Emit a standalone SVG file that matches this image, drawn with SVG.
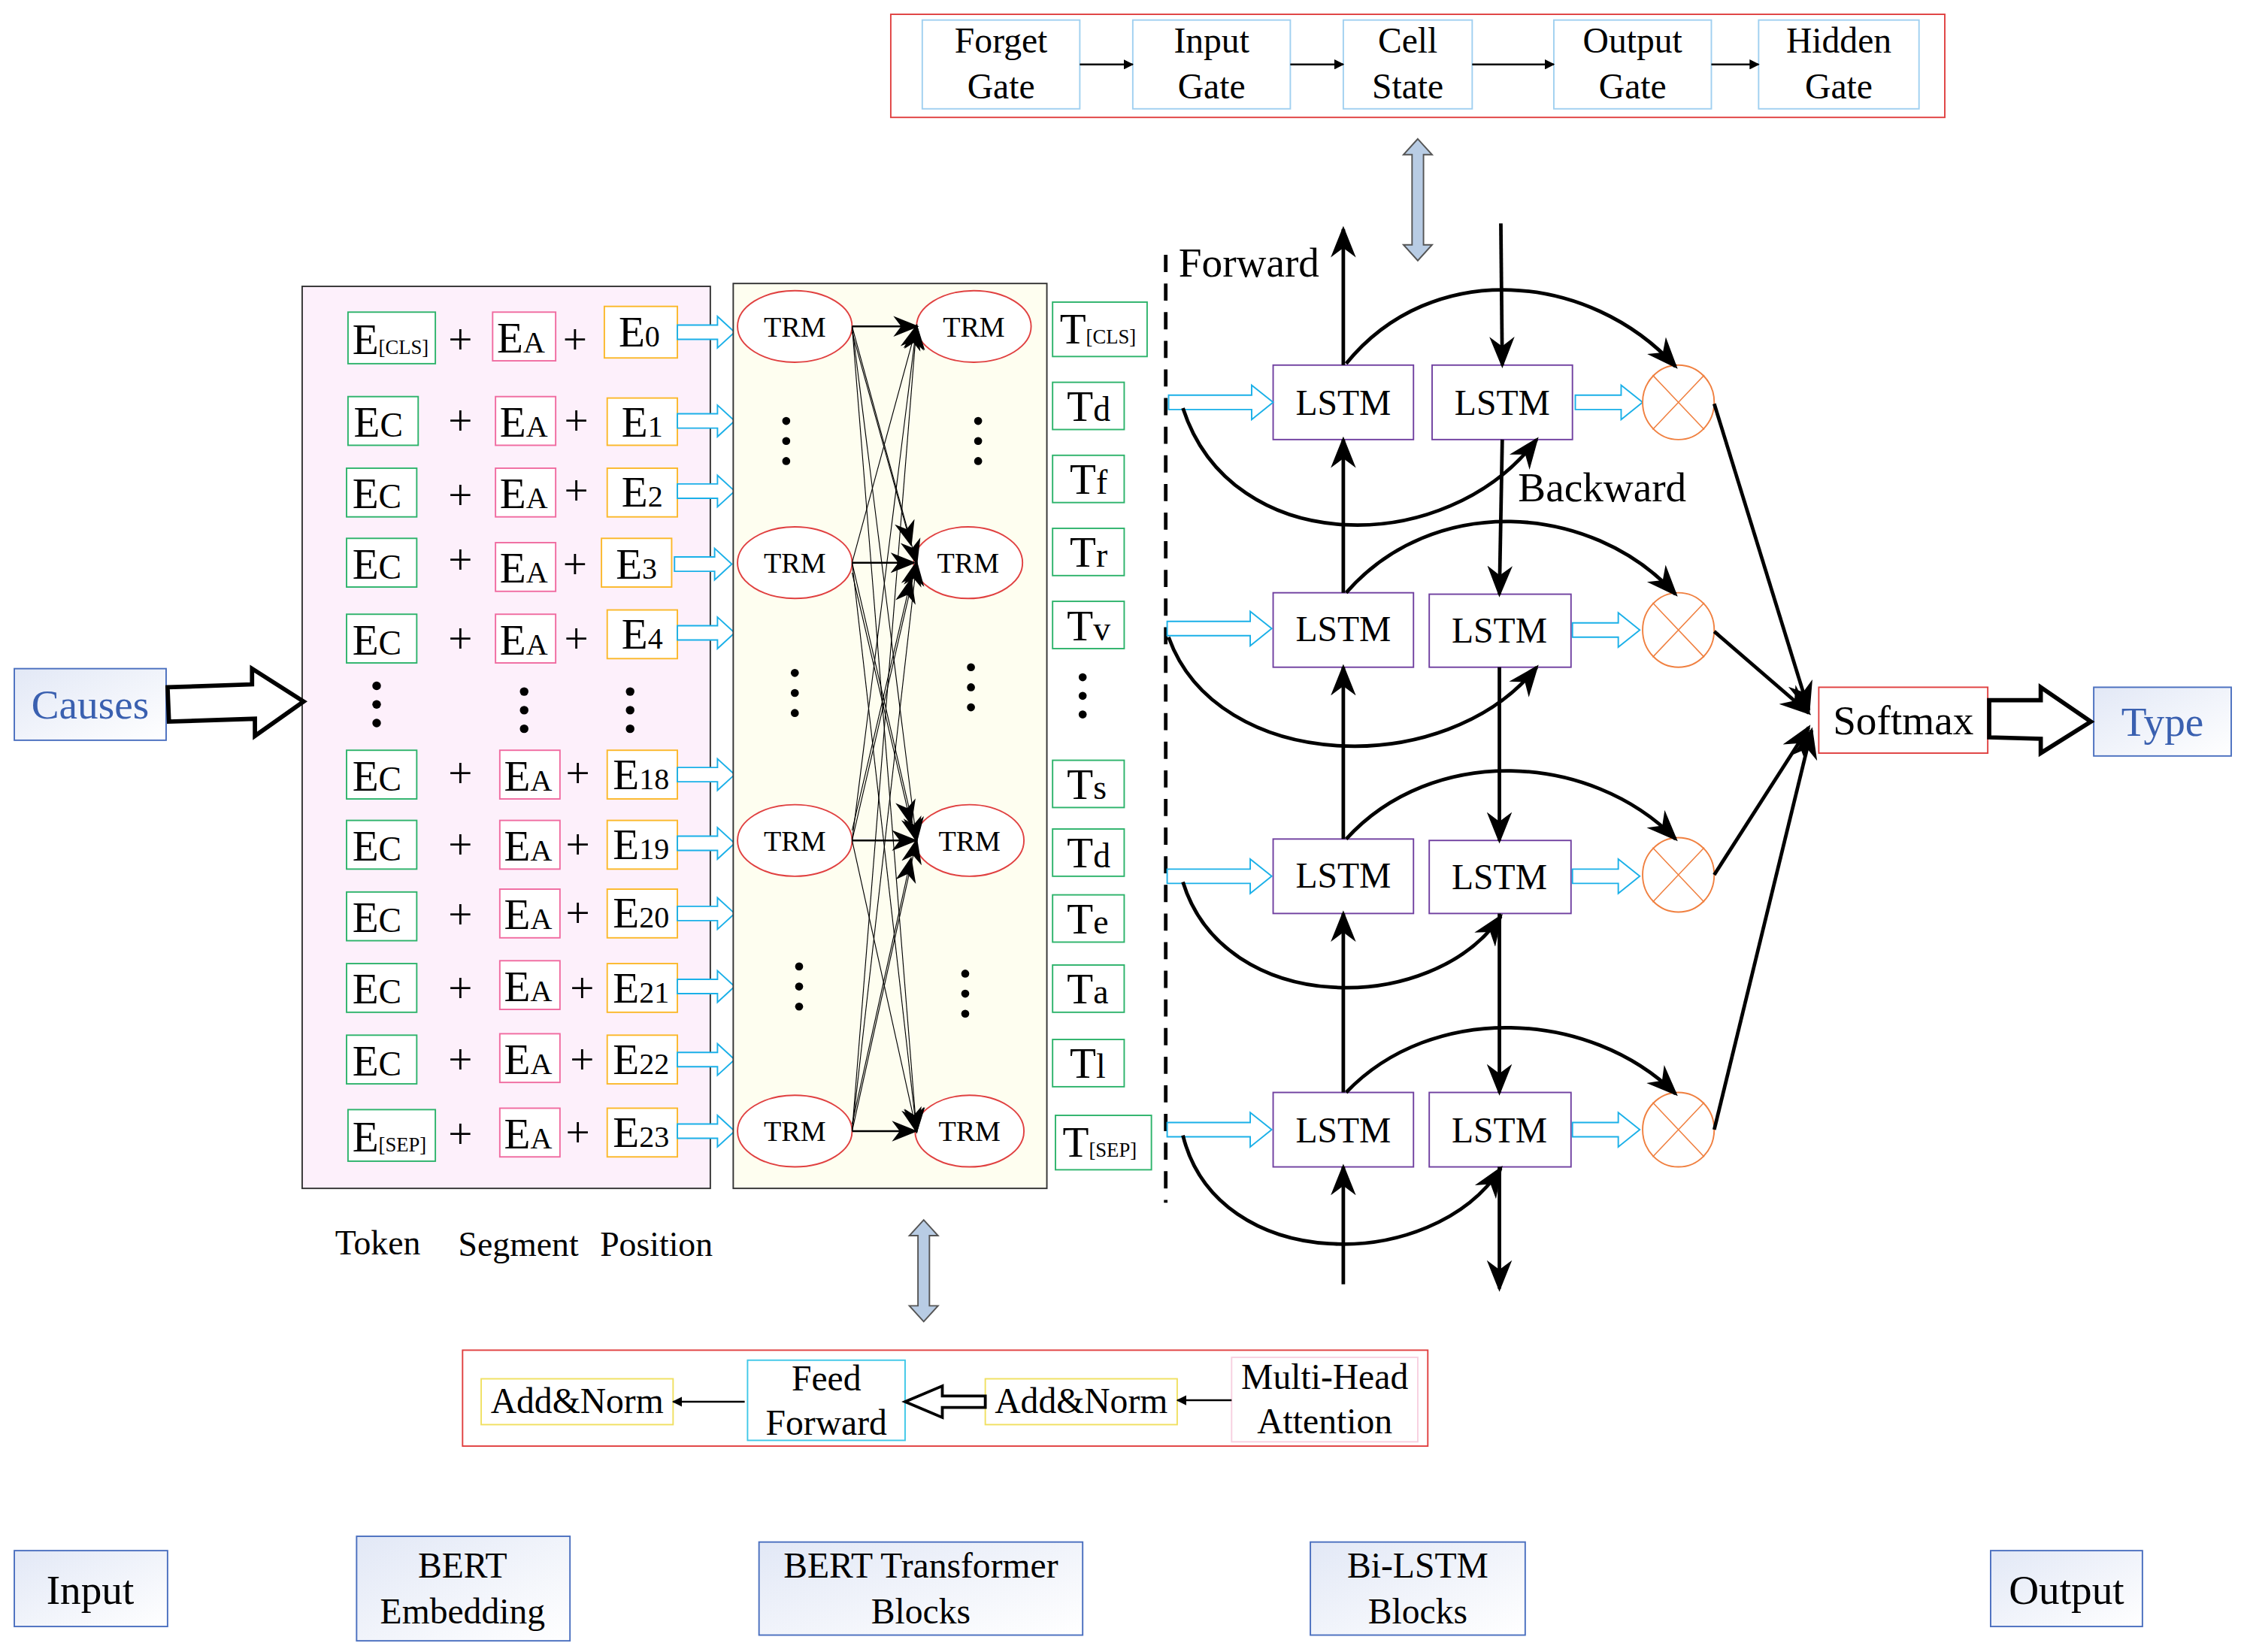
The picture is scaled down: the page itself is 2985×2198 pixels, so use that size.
<svg xmlns="http://www.w3.org/2000/svg" width="2985" height="2198" viewBox="0 0 2985 2198">
<defs>
<style>
text{font-family:"Liberation Serif","Times New Roman",serif;fill:#000}
.b{fill:#fff;stroke-width:1}
.g{stroke:#2db36b}.p{stroke:#f06ba0}.o{stroke:#fbb829}.c{stroke:#1ab0e8}
.pl{font-size:30px}
.e{font-size:30px}
.ln{stroke:#000;stroke-width:2.5;fill:none}
.lg{stroke:#4a6fbf;stroke-width:1;fill:url(#gr)}
</style>
<linearGradient id="gr" x1="0" y1="0" x2="1" y2="1"><stop offset="0" stop-color="#e2e8f6"/><stop offset="1" stop-color="#ffffff"/></linearGradient>
<marker id="ah" viewBox="0 0 10 10" refX="9" refY="5" markerWidth="7" markerHeight="7" orient="auto" markerUnits="userSpaceOnUse"><path d="M0,0 L10,5 L0,10 Z"/></marker>
<marker id="ab" viewBox="0 0 10 10" refX="9" refY="5" markerWidth="22" markerHeight="22" orient="auto" markerUnits="userSpaceOnUse"><path d="M0,1 L10,5 L0,9 L3,5 Z"/></marker>
<marker id="at" viewBox="0 0 10 10" refX="9" refY="5" markerWidth="18" markerHeight="18" orient="auto" markerUnits="userSpaceOnUse"><path d="M0,1 L10,5 L0,9 L3,5 Z"/></marker>
<path id="sa" d="M0,-5 H28 V-11 L40,0 L28,11 V5 H0 Z" fill="#fff" stroke="#1ab0e8" stroke-width="1"/>
<path id="la" d="M0,-5 H58 V-12 L73,0 L58,12 V5 H0 Z" fill="#fff" stroke="#1ab0e8" stroke-width="1"/>
<path id="ra" d="M0,-5 H32 V-12 L47,0 L32,12 V5 H0 Z" fill="#fff" stroke="#1ab0e8" stroke-width="1"/>
<g id="mul"><ellipse cx="0" cy="0" rx="25" ry="26" fill="#fff" stroke="#f08040"/><path d="M-18,-19 L18,19 M18,-19 L-18,19" stroke="#f08040" stroke-width="0.8"/></g>
</defs>
<rect width="2985" height="2198" fill="#fff"/>
<g transform="scale(1.905)">
<g id="gates">
<rect x="622" y="10" width="736" height="72" fill="#fff" stroke="#e04040"/>
<rect x="644" y="14" width="110" height="62" fill="#fff" stroke="#a0d0f0"/>
<rect x="791" y="14" width="110" height="62" fill="#fff" stroke="#a0d0f0"/>
<rect x="938" y="14" width="90" height="62" fill="#fff" stroke="#a0d0f0"/>
<rect x="1085" y="14" width="110" height="62" fill="#fff" stroke="#a0d0f0"/>
<rect x="1228" y="14" width="112" height="62" fill="#fff" stroke="#a0d0f0"/>
<g font-size="25" text-anchor="middle">
<text x="699" y="37">Forget</text><text x="699" y="69">Gate</text>
<text x="846" y="37">Input</text><text x="846" y="69">Gate</text>
<text x="983" y="37">Cell</text><text x="983" y="69">State</text>
<text x="1140" y="37">Output</text><text x="1140" y="69">Gate</text>
<text x="1284" y="37">Hidden</text><text x="1284" y="69">Gate</text>
</g>
</g>
<g id="embedding">
<rect x="211" y="200" width="285" height="630" fill="#fdf0fb" stroke="#333"/>
<g>
<rect class="b g" x="243" y="218" width="61" height="36"/><text x="246" y="247" class="e">E<tspan font-size="14">[CLS]</tspan></text>
<rect class="b p" x="344" y="218" width="44" height="34"/><text x="347" y="246" class="e">E<tspan font-size="21">A</tspan></text>
<rect class="b o" x="422" y="214" width="51" height="36"/><text x="432" y="242" class="e">E<tspan font-size="21">0</tspan></text>
<text x="313" y="247" class="pl">+</text><text x="393" y="247" class="pl">+</text>
</g>
<g id="rows">
<rect class="b g" x="243" y="277" width="49" height="34"/><text x="247" y="305" class="e">E<tspan font-size="24">C</tspan></text>
<rect class="b p" x="346" y="277" width="42" height="34"/><text x="349" y="305" class="e">E<tspan font-size="21">A</tspan></text>
<rect class="b o" x="424" y="278" width="49" height="33"/><text x="434" y="305" class="e">E<tspan font-size="21">1</tspan></text>
<text x="313" y="304" class="pl">+</text><text x="394" y="304" class="pl">+</text>

<rect class="b g" x="242" y="327" width="49" height="34"/><text x="246" y="355" class="e">E<tspan font-size="24">C</tspan></text>
<rect class="b p" x="346" y="327" width="42" height="34"/><text x="349" y="355" class="e">E<tspan font-size="21">A</tspan></text>
<rect class="b o" x="424" y="327" width="49" height="34"/><text x="434" y="354" class="e">E<tspan font-size="21">2</tspan></text>
<text x="313" y="356" class="pl">+</text><text x="394" y="353" class="pl">+</text>

<rect class="b g" x="242" y="376" width="49" height="34"/><text x="246" y="404" class="e">E<tspan font-size="24">C</tspan></text>
<rect class="b p" x="346" y="379" width="42" height="34"/><text x="349" y="407" class="e">E<tspan font-size="21">A</tspan></text>
<rect class="b o" x="420" y="376" width="49" height="34"/><text x="430" y="404" class="e">E<tspan font-size="21">3</tspan></text>
<text x="313" y="401" class="pl">+</text><text x="393" y="404" class="pl">+</text>

<rect class="b g" x="242" y="429" width="49" height="34"/><text x="246" y="457" class="e">E<tspan font-size="24">C</tspan></text>
<rect class="b p" x="346" y="429" width="42" height="34"/><text x="349" y="457" class="e">E<tspan font-size="21">A</tspan></text>
<rect class="b o" x="424" y="426" width="49" height="34"/><text x="434" y="453" class="e">E<tspan font-size="21">4</tspan></text>
<text x="313" y="456" class="pl">+</text><text x="394" y="456" class="pl">+</text>

<g fill="#000"><circle cx="263" cy="479" r="3"/><circle cx="263" cy="492" r="3"/><circle cx="263" cy="505" r="3"/>
<circle cx="366" cy="483" r="3"/><circle cx="366" cy="496" r="3"/><circle cx="366" cy="509" r="3"/>
<circle cx="440" cy="483" r="3"/><circle cx="440" cy="496" r="3"/><circle cx="440" cy="509" r="3"/></g>

<rect class="b g" x="242" y="524" width="49" height="34"/><text x="246" y="552" class="e">E<tspan font-size="24">C</tspan></text>
<rect class="b p" x="349" y="524" width="42" height="34"/><text x="352" y="552" class="e">E<tspan font-size="21">A</tspan></text>
<rect class="b o" x="424" y="524" width="49" height="34"/><text x="428" y="551" class="e">E<tspan font-size="21">18</tspan></text>
<text x="313" y="550" class="pl">+</text><text x="395" y="550" class="pl">+</text>

<rect class="b g" x="242" y="573" width="49" height="34"/><text x="246" y="601" class="e">E<tspan font-size="24">C</tspan></text>
<rect class="b p" x="349" y="573" width="42" height="34"/><text x="352" y="601" class="e">E<tspan font-size="21">A</tspan></text>
<rect class="b o" x="424" y="573" width="49" height="34"/><text x="428" y="600" class="e">E<tspan font-size="21">19</tspan></text>
<text x="313" y="600" class="pl">+</text><text x="395" y="600" class="pl">+</text>

<rect class="b g" x="242" y="623" width="49" height="34"/><text x="246" y="651" class="e">E<tspan font-size="24">C</tspan></text>
<rect class="b p" x="349" y="621" width="42" height="34"/><text x="352" y="649" class="e">E<tspan font-size="21">A</tspan></text>
<rect class="b o" x="424" y="621" width="49" height="34"/><text x="428" y="648" class="e">E<tspan font-size="21">20</tspan></text>
<text x="313" y="649" class="pl">+</text><text x="395" y="648" class="pl">+</text>

<rect class="b g" x="242" y="673" width="49" height="34"/><text x="246" y="701" class="e">E<tspan font-size="24">C</tspan></text>
<rect class="b p" x="349" y="671" width="42" height="34"/><text x="352" y="699" class="e">E<tspan font-size="21">A</tspan></text>
<rect class="b o" x="424" y="673" width="49" height="34"/><text x="428" y="700" class="e">E<tspan font-size="21">21</tspan></text>
<text x="313" y="700" class="pl">+</text><text x="398" y="700" class="pl">+</text>

<rect class="b g" x="242" y="723" width="49" height="34"/><text x="246" y="751" class="e">E<tspan font-size="24">C</tspan></text>
<rect class="b p" x="349" y="722" width="42" height="34"/><text x="352" y="750" class="e">E<tspan font-size="21">A</tspan></text>
<rect class="b o" x="424" y="723" width="49" height="34"/><text x="428" y="750" class="e">E<tspan font-size="21">22</tspan></text>
<text x="313" y="750" class="pl">+</text><text x="398" y="750" class="pl">+</text>

<rect class="b g" x="243" y="775" width="61" height="36"/><text x="246" y="804" class="e">E<tspan font-size="14">[SEP]</tspan></text>
<rect class="b p" x="349" y="774" width="42" height="34"/><text x="352" y="802" class="e">E<tspan font-size="21">A</tspan></text>
<rect class="b o" x="424" y="774" width="49" height="34"/><text x="428" y="801" class="e">E<tspan font-size="21">23</tspan></text>
<text x="313" y="802" class="pl">+</text><text x="395" y="801" class="pl">+</text>
</g>
<g id="emb-arrows">
<use href="#sa" x="473" y="232"/><use href="#sa" x="473" y="294"/><use href="#sa" x="473" y="343"/>
<use href="#sa" x="471" y="394"/><use href="#sa" x="473" y="442"/><use href="#sa" x="473" y="541"/>
<use href="#sa" x="473" y="589"/><use href="#sa" x="473" y="638"/><use href="#sa" x="473" y="689"/>
<use href="#sa" x="473" y="740"/><use href="#sa" x="473" y="790"/>
</g>
<g font-size="24"><text x="234" y="876">Token</text><text x="320" y="877">Segment</text><text x="419" y="877">Position</text></g>
</g>
<g id="transformer">
<rect x="512" y="198" width="219" height="632" fill="#fefef0" stroke="#333"/>
<g fill="#fff" stroke="#e04040">
<ellipse cx="555" cy="228" rx="40" ry="25"/><ellipse cx="555" cy="393" rx="40" ry="25"/><ellipse cx="555" cy="587" rx="40" ry="25"/><ellipse cx="555" cy="790" rx="40" ry="25"/>
<ellipse cx="680" cy="228" rx="40" ry="25"/><ellipse cx="676" cy="393" rx="38" ry="25"/><ellipse cx="677" cy="587" rx="38" ry="25"/><ellipse cx="677" cy="790" rx="38" ry="25"/>
</g>
<g font-size="20" text-anchor="middle">
<text x="555" y="235">TRM</text><text x="555" y="400">TRM</text><text x="555" y="594">TRM</text><text x="555" y="797">TRM</text>
<text x="680" y="235">TRM</text><text x="676" y="400">TRM</text><text x="677" y="594">TRM</text><text x="677" y="797">TRM</text>
</g>
<g fill="#000">
<circle cx="549" cy="294" r="2.8"/><circle cx="549" cy="308" r="2.8"/><circle cx="549" cy="322" r="2.8"/>
<circle cx="683" cy="294" r="2.8"/><circle cx="683" cy="308" r="2.8"/><circle cx="683" cy="322" r="2.8"/>
<circle cx="555" cy="470" r="2.8"/><circle cx="555" cy="484" r="2.8"/><circle cx="555" cy="498" r="2.8"/>
<circle cx="678" cy="466" r="2.8"/><circle cx="678" cy="480" r="2.8"/><circle cx="678" cy="494" r="2.8"/>
<circle cx="558" cy="675" r="2.8"/><circle cx="558" cy="689" r="2.8"/><circle cx="558" cy="703" r="2.8"/>
<circle cx="674" cy="680" r="2.8"/><circle cx="674" cy="694" r="2.8"/><circle cx="674" cy="708" r="2.8"/>
</g>
</g>
<g id="tokens-out">
<g fill="#fff" stroke="#2db36b">
<rect x="735" y="211" width="66" height="38"/><rect x="735" y="267" width="50" height="33"/><rect x="735" y="318" width="50" height="33"/>
<rect x="735" y="369" width="50" height="33"/><rect x="735" y="420" width="50" height="33"/><rect x="735" y="531" width="50" height="33"/>
<rect x="735" y="579" width="50" height="33"/><rect x="735" y="625" width="50" height="33"/><rect x="735" y="674" width="50" height="33"/>
<rect x="735" y="726" width="50" height="33"/><rect x="737" y="779" width="67" height="38"/>
</g>
<g class="e">
<text x="740" y="240">T<tspan font-size="14">[CLS]</tspan></text>
<text x="745" y="294">T<tspan font-size="24">d</tspan></text>
<text x="747" y="345">T<tspan font-size="24">f</tspan></text>
<text x="747" y="396">T<tspan font-size="24">r</tspan></text>
<text x="745" y="447">T<tspan font-size="24">v</tspan></text>
<text x="745" y="558">T<tspan font-size="24">s</tspan></text>
<text x="745" y="606">T<tspan font-size="24">d</tspan></text>
<text x="745" y="652">T<tspan font-size="24">e</tspan></text>
<text x="745" y="701">T<tspan font-size="24">a</tspan></text>
<text x="747" y="753">T<tspan font-size="24">l</tspan></text>
<text x="742" y="808">T<tspan font-size="14">[SEP]</tspan></text>
</g>
<g fill="#000"><circle cx="756" cy="473" r="2.8"/><circle cx="756" cy="486" r="2.8"/><circle cx="756" cy="499" r="2.8"/></g>
</g>
<g id="bilstm">
<line x1="814" y1="178" x2="814" y2="840" stroke="#000" stroke-width="2.5" stroke-dasharray="12,8"/>
<text x="823" y="193" font-size="29">Forward</text>
<text x="1060" y="350" font-size="29">Backward</text>
<g fill="#fff" stroke="#7040a0">
<rect x="889" y="255" width="98" height="52"/><rect x="1000" y="255" width="98" height="52"/>
<rect x="889" y="414" width="98" height="52"/><rect x="998" y="415" width="99" height="51"/>
<rect x="889" y="586" width="98" height="52"/><rect x="998" y="587" width="99" height="51"/>
<rect x="889" y="763" width="98" height="52"/><rect x="998" y="763" width="99" height="52"/>
</g>
<g font-size="25" text-anchor="middle">
<text x="938" y="290">LSTM</text><text x="1049" y="290">LSTM</text>
<text x="938" y="448">LSTM</text><text x="1047" y="449">LSTM</text>
<text x="938" y="620">LSTM</text><text x="1047" y="621">LSTM</text>
<text x="938" y="798">LSTM</text><text x="1047" y="798">LSTM</text>
</g>
<use href="#la" x="816" y="281"/><use href="#la" x="815" y="439"/><use href="#la" x="815" y="612"/><use href="#la" x="815" y="789"/>
<use href="#ra" x="1100" y="281"/><use href="#ra" x="1098" y="440"/><use href="#ra" x="1098" y="612"/><use href="#ra" x="1098" y="789"/>
<use href="#mul" x="1172" y="281"/><use href="#mul" x="1172" y="440"/><use href="#mul" x="1172" y="611"/><use href="#mul" x="1172" y="789"/>
</g>
<g id="softmax"><rect x="1270" y="480" width="118" height="46" fill="#fff" stroke="#e04040"/><text x="1329" y="513" font-size="29" text-anchor="middle">Softmax</text></g>
<g id="type"><rect x="1462" y="480" width="96" height="48" class="lg"/><text x="1510" y="514" font-size="29" text-anchor="middle" style="fill:#3a60b0">Type</text></g>
<g id="causes"><rect x="10" y="467" width="106" height="50" class="lg"/><text x="63" y="502" font-size="29" text-anchor="middle" style="fill:#3a60b0">Causes</text></g>
<g id="trm-detail">
<rect x="323" y="943" width="674" height="67" fill="#fff" stroke="#e04040"/>
<rect x="336" y="963" width="134" height="32" fill="#fff" stroke="#f0e060"/><text x="403" y="987" font-size="25" text-anchor="middle">Add&amp;Norm</text>
<rect x="522" y="950" width="110" height="56" fill="#fff" stroke="#40c8e8"/><text x="577" y="971" font-size="25" text-anchor="middle">Feed</text><text x="577" y="1002" font-size="25" text-anchor="middle">Forward</text>
<rect x="688" y="963" width="134" height="32" fill="#fff" stroke="#f0e060"/><text x="755" y="987" font-size="25" text-anchor="middle">Add&amp;Norm</text>
<rect x="860" y="948" width="130" height="59" fill="#fff" stroke="#f8d0e0"/><text x="925" y="970" font-size="25" text-anchor="middle">Multi-Head</text><text x="925" y="1001" font-size="25" text-anchor="middle">Attention</text>
</g>
<g id="legend" font-size="25" text-anchor="middle">
<rect x="10" y="1083" width="107" height="53" class="lg"/><text x="63" y="1120" font-size="29">Input</text>
<rect x="249" y="1073" width="149" height="73" class="lg"/><text x="323" y="1102">BERT</text><text x="323" y="1134">Embedding</text>
<rect x="530" y="1077" width="226" height="65" class="lg"/><text x="643" y="1102">BERT Transformer</text><text x="643" y="1134">Blocks</text>
<rect x="915" y="1077" width="150" height="65" class="lg"/><text x="990" y="1102">Bi-LSTM</text><text x="990" y="1134">Blocks</text>
<rect x="1390" y="1083" width="106" height="53" class="lg"/><text x="1443" y="1120" font-size="29">Output</text>
</g>
<g id="connectors">
<g stroke="#000" stroke-width="1.3" marker-end="url(#ah)">
<line x1="754" y1="45" x2="791" y2="45"/><line x1="901" y1="45" x2="938" y2="45"/><line x1="1028" y1="45" x2="1085" y2="45"/><line x1="1195" y1="45" x2="1228" y2="45"/>
<line x1="520" y1="979" x2="470" y2="979"/><line x1="860" y1="978" x2="822" y2="978"/>
</g>
<path d="M688,975 H658 V968 L632,979 L658,990 V983 H688 Z" fill="#fff" stroke="#000" stroke-width="2"/>
<path d="M990,97 L1000,108 H994 V171 H1000 L990,182 L980,171 H986 V108 H980 Z" fill="#b8cce4" stroke="#555"/>
<path d="M645,852 L655,863 H649 V912 H655 L645,923 L635,912 H641 V863 H635 Z" fill="#b8cce4" stroke="#555"/>
<path d="M117,480 L176,478 V467 L212,490 L178,514 V502 L118,504 Z" fill="#fff" stroke="#000" stroke-width="3"/>
<path d="M1389,489 L1425,489 V480 L1460,504 L1425,526 V516 L1389,515 Z" fill="#fff" stroke="#000" stroke-width="3"/>
<g stroke="#000" stroke-width="0.6" marker-end="url(#at)">
<line x1="595" y1="228" x2="640" y2="393"/><line x1="595" y1="228" x2="640" y2="587"/><line x1="595" y1="228" x2="640" y2="790"/>
<line x1="595" y1="393" x2="640" y2="228"/><line x1="595" y1="393" x2="640" y2="587"/><line x1="595" y1="393" x2="640" y2="790"/>
<line x1="595" y1="587" x2="640" y2="228"/><line x1="595" y1="587" x2="640" y2="393"/><line x1="595" y1="587" x2="640" y2="790"/>
<line x1="595" y1="790" x2="640" y2="228"/><line x1="595" y1="790" x2="640" y2="393"/><line x1="595" y1="790" x2="640" y2="587"/>
<line x1="595" y1="232" x2="636" y2="380"/><line x1="595" y1="400" x2="636" y2="575"/><line x1="595" y1="580" x2="636" y2="405"/><line x1="595" y1="785" x2="636" y2="600"/>
</g>
<g stroke="#000" stroke-width="1.3" marker-end="url(#at)">
<line x1="595" y1="228" x2="640" y2="228"/><line x1="595" y1="393" x2="638" y2="393"/><line x1="595" y1="587" x2="639" y2="587"/><line x1="595" y1="790" x2="639" y2="790"/>
</g>
<g class="ln" marker-end="url(#ab)">
<line x1="938" y1="255" x2="938" y2="160"/><line x1="938" y1="414" x2="938" y2="307"/><line x1="938" y1="586" x2="938" y2="466"/><line x1="938" y1="763" x2="938" y2="638"/><line x1="938" y1="897" x2="938" y2="815"/>
<line x1="1048" y1="156" x2="1049" y2="255"/><line x1="1049" y1="307" x2="1047" y2="415"/><line x1="1047" y1="466" x2="1047" y2="587"/><line x1="1047" y1="638" x2="1047" y2="763"/><line x1="1047" y1="815" x2="1047" y2="900"/>
<path d="M940,254 C1000,180 1110,190 1170,256"/>
<path d="M940,414 C1000,345 1110,350 1170,415"/>
<path d="M940,586 C1000,520 1110,525 1170,586"/>
<path d="M940,763 C1000,700 1110,705 1170,764"/>
<path d="M826,285 C860,390 1010,390 1073,307"/>
<path d="M816,445 C850,540 1010,545 1073,466"/>
<path d="M826,616 C855,710 1000,710 1048,640"/>
<path d="M826,793 C850,890 1000,890 1048,816"/>
<line x1="1197" y1="282" x2="1263" y2="496"/><line x1="1197" y1="441" x2="1263" y2="498"/><line x1="1197" y1="611" x2="1263" y2="508"/><line x1="1197" y1="789" x2="1265" y2="510"/>
</g>
</g>
</g>
</svg>
